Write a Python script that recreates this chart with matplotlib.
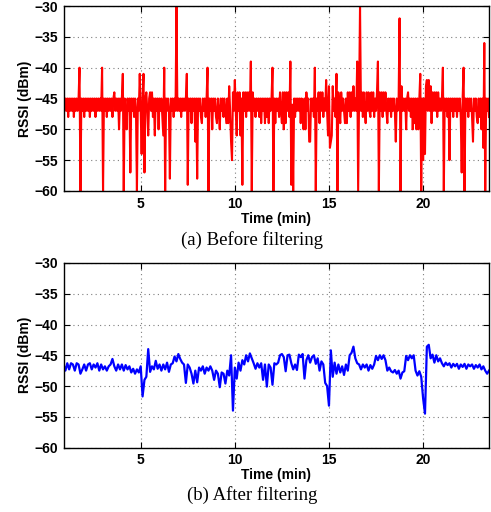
import matplotlib
matplotlib.use('Agg')
import matplotlib.pyplot as plt
import numpy as np

# ---------------- data ----------------
red_t_start, red_t_step = 0.90, 0.05      # minutes
blue_t_start, blue_t_step = 0.90, 0.10    # minutes

rssi_before = [
    -45, -47,                                                                                              # 0.90-0.95
    -45, -47, -45, -48, -45, -47, -45, -47, -45, -48, -45, -47, -45, -47, -45, -40, -60, -45, -47, -45,    # 1
    -48, -45, -47, -45, -47, -45, -48, -45, -47, -45, -47, -45, -48, -45, -47, -45, -47, -45, -47, -40,    # 2
    -60, -45, -47, -45, -48, -45, -47, -45, -47, -45, -48, -45, -44, -47, -45, -47, -45, -50, -45, -47,    # 3
    -45, -41, -60, -45, -47, -50, -45, -47, -45, -57, -45, -47, -45, -48, -45, -47, -60, -45, -47, -41,    # 4
    -47, -54, -45, -41, -57, -45, -44, -47, -51, -45, -44, -47, -44, -48, -45, -51, -45, -47, -45, -50,    # 5
    -45, -47, -45, -48, -51, -40, -60, -45, -47, -45, -47, -58, -45, -47, -45, -48, -45, -47, -30, -47,    # 6
    -45, -47, -45, -48, -45, -47, -45, -47, -45, -41, -59, -45, -47, -45, -49, -45, -47, -45, -52, -45,    # 7
    -58, -45, -47, -45, -48, -49, -45, -47, -45, -48, -45, -40, -60, -45, -47, -45, -50, -45, -47, -45,    # 8
    -48, -49, -45, -47, -50, -45, -47, -45, -48, -45, -47, -49, -45, -49, -43, -47, -52, -55, -44, -47,    # 9
    -42, -47, -51, -44, -47, -44, -51, -45, -59, -44, -47, -44, -48, -44, -47, -44, -47, -39, -60, -44,    # 10
    -47, -45, -48, -45, -47, -45, -48, -45, -49, -45, -47, -45, -49, -45, -48, -45, -49, -45, -47, -45,    # 11
    -40, -60, -45, -49, -45, -47, -45, -48, -44, -47, -49, -44, -50, -44, -49, -44, -47, -44, -48, -39,    # 12
    -59, -46, -60, -45, -48, -45, -47, -45, -47, -45, -49, -45, -47, -50, -45, -50, -44, -47, -45, -52,    # 13
    -52, -45, -47, -45, -48, -40, -60, -45, -47, -44, -49, -44, -47, -44, -48, -45, -47, -42, -47, -51,    # 14
    -43, -53, -52, -51, -43, -47, -45, -48, -41, -60, -44, -47, -49, -44, -47, -45, -47, -49, -45, -49,    # 15
    -44, -47, -44, -48, -44, -47, -43, -47, -45, -47, -39, -60, -45, -30, -47, -44, -48, -44, -47, -49,    # 16
    -44, -47, -44, -47, -48, -44, -47, -44, -48, -45, -47, -44, -39, -60, -44, -47, -44, -48, -44, -47,    # 17
    -44, -47, -49, -45, -47, -45, -48, -45, -47, -45, -47, -52, -45, -47, -45, -32, -60, -43, -47, -45,    # 18
    -47, -45, -50, -45, -44, -47, -45, -48, -45, -50, -45, -49, -45, -50, -45, -50, -45, -41, -60, -45,    # 19
    -55, -45, -54, -43, -42, -47, -42, -47, -43, -49, -44, -47, -44, -47, -44, -48, -44, -47, -45, -47,    # 20
    -45, -40, -60, -45, -47, -45, -48, -45, -55, -45, -47, -45, -48, -45, -47, -45, -48, -45, -47, -45,    # 21
    -48, -57, -45, -40, -60, -45, -47, -45, -48, -45, -47, -45, -48, -52, -45, -47, -45, -48, -49, -45,    # 22
    -48, -45, -50, -45, -53, -36, -60, -45, -47, -45, -48,                                                 # 23.00-23.50
]

rssi_after = [
    -46.5,                                                                  # 0.9
    -47.5, -46.3, -47.3, -46.3, -46.5, -47.5, -46.3, -46.5, -48.0, -47.3,   # 1
    -46.5, -47.5, -46.5, -46.3, -47.3, -46.5, -47.0, -46.3, -47.5, -46.5,   # 2
    -47.3, -46.8, -47.5, -46.8, -46.5, -45.6, -46.8, -47.5, -46.5, -47.3,   # 3
    -46.5, -47.5, -46.6, -47.3, -46.8, -47.8, -47.2, -48.0, -47.3, -47.8,   # 4
    -46.8, -51.7, -49.0, -48.5, -44.0, -47.7, -46.8, -47.3, -45.9, -47.2,   # 5
    -46.5, -47.5, -46.5, -47.3, -46.2, -47.7, -46.5, -46.3, -45.2, -46.0,   # 6
    -44.8, -45.6, -46.2, -46.5, -49.5, -46.5, -47.0, -48.0, -49.6, -47.5,   # 7
    -49.4, -47.0, -47.5, -46.8, -48.0, -47.0, -47.5, -46.8, -47.5, -49.0,   # 8
    -47.5, -48.0, -50.2, -47.8, -48.0, -49.6, -47.5, -48.3, -45.0, -54.0,   # 9
    -47.0, -48.8, -46.2, -47.5, -45.8, -46.5, -45.0, -46.0, -44.7, -45.5,   # 10
    -46.3, -47.2, -46.3, -47.0, -46.3, -49.0, -46.5, -50.1, -46.5, -47.0,   # 11
    -49.8, -46.3, -46.5, -46.2, -45.0, -44.8, -45.3, -47.6, -45.0, -44.9,   # 12
    -46.3, -47.3, -46.5, -47.4, -44.9, -45.3, -44.8, -48.8, -45.8, -45.0,   # 13
    -46.2, -45.3, -45.0, -46.4, -45.5, -47.5, -46.0, -46.5, -49.5, -50.0,   # 14
    -53.2, -44.2, -48.5, -46.2, -48.0, -46.5, -47.8, -46.8, -48.2, -46.5,   # 15
    -47.5, -45.0, -44.6, -43.6, -45.5, -46.3, -46.5, -47.3, -46.5, -47.0,   # 16
    -46.5, -47.5, -46.6, -47.2, -46.5, -45.1, -45.8, -45.0, -45.6, -45.0,   # 17
    -45.8, -47.5, -47.0, -47.6, -47.8, -47.4, -48.0, -47.5, -48.8, -47.8,   # 18
    -47.6, -45.1, -45.8, -45.0, -45.5, -45.0, -47.5, -48.3, -47.6, -48.5,   # 19
    -52.0, -54.5, -43.6, -43.3, -45.5, -44.9, -46.2, -45.0, -46.0, -45.5,   # 20
    -46.3, -46.8, -46.2, -46.6, -46.3, -47.0, -46.4, -46.8, -46.4, -47.2,   # 21
    -46.5, -46.9, -46.4, -47.2, -46.5, -46.8, -46.5, -47.2, -46.6, -47.0,   # 22
    -46.5, -47.3, -46.8, -47.5, -48.0, -47.5,                               # 23
]

x_ticks = [5, 10, 15, 20]
y_ticks = [-60, -55, -50, -45, -40, -35, -30]
x_label = "Time (min)"
y_label = "RSSI (dBm)"
captions = ["(a) Before filtering", "(b) After filtering"]

# ---------------- figure ----------------
plt.rcParams['font.family'] = ['Liberation Sans', 'DejaVu Sans']

fig = plt.figure(figsize=(4.91, 5.12), dpi=100)
W, H = 491, 512

def px_axes(l, t, r, b):
    return fig.add_axes([l / W, 1 - b / H, (r - l) / W, (b - t) / H])

ax1 = px_axes(63.5, 6, 489, 191)
ax2 = px_axes(63.5, 263, 489, 447.5)

t_before = red_t_start + red_t_step * np.arange(len(rssi_before))
t_after = blue_t_start + blue_t_step * np.arange(len(rssi_after))

ax1.plot(t_before, rssi_before, color='#ff0000', lw=1.5, solid_joinstyle='round')
ax2.plot(t_after, rssi_after, color='#0000ff', lw=1.6, solid_joinstyle='round')

for ax in (ax1, ax2):
    ax.set_xlim(t_before[0], t_before[-1])
    ax.set_ylim(-60, -30)
    ax.set_xticks(x_ticks)
    ax.set_yticks(y_ticks)
    ax.grid(True, color='#7f7f7f', linestyle=(0, (1, 3)), linewidth=0.8)
    ax.set_axisbelow(True)
    ax.tick_params(direction='in', length=4, width=0.8, top=True, right=True,
                   labelsize=10, pad=4, colors='black')
    for lab in ax.get_xticklabels() + ax.get_yticklabels():
        lab.set_fontweight('bold')
    for sp in ax.spines.values():
        sp.set_linewidth(1.0)
        sp.set_color('black')
    ax.set_xlabel(x_label, fontsize=10, fontweight='bold', labelpad=1)
    ax.set_ylabel(y_label, fontsize=10, fontweight='bold', labelpad=2)

fig.text(252 / W, 1 - 240 / H, captions[0], ha='center', va='center',
         fontsize=13.5, family=['Liberation Serif', 'DejaVu Serif'])
fig.text(252 / W, 1 - 495 / H, captions[1], ha='center', va='center',
         fontsize=13.5, family=['Liberation Serif', 'DejaVu Serif'])

fig.savefig('out.png', dpi=100)
